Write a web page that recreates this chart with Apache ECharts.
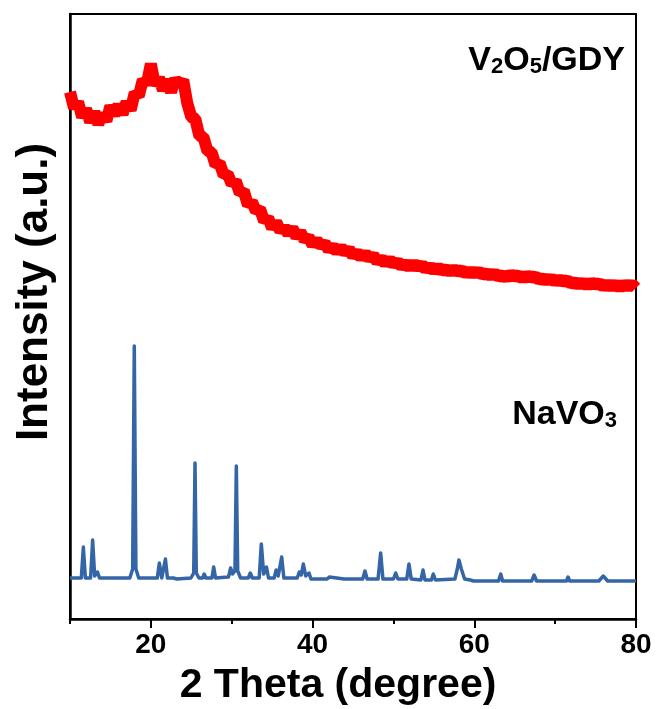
<!DOCTYPE html>
<html>
<head>
<meta charset="utf-8">
<script src="https://cdn.jsdelivr.net/npm/echarts@6/dist/echarts.min.js"></script>
<style>html,body{margin:0;padding:0;background:#fff;}#c{width:660px;height:709px;}</style>
</head>
<body>
<div id="c"></div>
<script>
// 2 Theta (degree) grid for the V2O5/GDY pattern (0.5 degree steps)
const redTheta = [];
for (let i = 0; i <= 140; i++) redTheta.push(10 + i * 0.5);
// V2O5/GDY intensity (a.u.) (noise estimated)
const redIntensity = [
 527,511,517,502,510,497,507,495,505,498,513,504,514,505,517,509,526,523,539,535,
 555,534,541,529,539,527,540,534,539,516,
 502,500,483,482,468,467,454,456,444,445,435,438,426,428,414,417,408,410,398,401,
 391,397,388,392,385,391,382,387,379,382,374,
 379,373,376,369,373,367,372,366,370,363,367,361,366,360,364,357,361,355,360,354,
 358,352,356,351,356,351,355,349,353,348,
 352,348,350,347,350,347,349,345,348,345,348,344,346,343,346,342,344,341,345,342,
 344,340,344,341,343,339,341,338,341,337,340,337,339,335,337,334,337,333,337,334,
 336,332,335,332,335,331,335,332,335,331
];
// NaVO3 pattern: [2 theta, intensity]
const bluePoints = [
 [10,41],
 [11.4,41],[11.65,72],[11.9,41],
 [12.55,41],[12.8,79],[13.05,43],[13.4,47],[13.65,41],
 [17.4,41],[17.75,50],[17.95,273],[18.15,50],[18.5,41],
 [20.8,41],[21.05,56],[21.35,41],[21.55,42],[21.8,60],[22.05,41],
 [22.8,41],[23.0,43],[23.2,40],
 [24.95,41],[25.3,46],[25.46,156],[25.62,46],[25.95,41],
 [26.4,41],[26.6,45],[26.8,41],
 [27.55,41],[27.77,52],[28.0,41],
 [29.6,42],[29.87,51],[30.1,45],[30.4,48],[30.57,153],[30.74,48],[31.1,41],
 [32.05,41],[32.3,46],[32.55,41],
 [33.4,41],[33.66,75],[33.95,45],[34.3,52],[34.55,41],
 [35.25,41],[35.5,49],[35.75,43],[36.18,62],[36.45,41],
 [38.1,41],[38.36,47],[38.6,44],[38.86,55],[39.15,43],[39.56,46],[39.8,40],
 [41.8,40],[42.07,42],[42.3,40],
 [43.9,40],[44.13,41],[44.35,40],
 [46.2,40],[46.48,48],[46.75,40],
 [48.1,40],[48.42,66],[48.7,40],
 [50.0,40],[50.28,46],[50.55,40],
 [51.65,40],[51.92,55],[52.2,40],
 [53.4,39],[53.66,49],[53.9,39],
 [54.7,39],[54.93,45],[55.2,39],
 [57.6,40],[57.9,50],[58.1,59],[58.4,50],[58.8,40],
 [59.5,39],[59.7,41],[59.9,38],
 [63.0,38],[63.27,45],[63.5,38],
 [67.1,38],[67.4,44],[67.7,38],
 [71.4,38],[71.6,42],[71.8,38],
 [75.4,38],[75.95,43],[76.5,38],
 [80,38]
];
const majorTicks = [20, 40, 60, 80];
const minorTicks = [10, 30, 50, 70];

const redData = redTheta.map((t, i) => [t, redIntensity[i]]);
const FONT = '"Liberation Sans", Arial, sans-serif';

const chart = echarts.init(document.getElementById('c'), null, {renderer: 'canvas'});
chart.setOption({
  animation: false,
  backgroundColor: '#fff',
  grid: {left: 70, right: 24, top: 14, bottom: 90, show: true, borderColor: '#000', borderWidth: 2, backgroundColor: 'transparent'},
  xAxis: [{
    type: 'value', min: 10, max: 80, position: 'bottom',
    axisLine: {show: true, lineStyle: {color: '#000', width: 2.5}},
    axisTick: {show: true, inside: false, length: 9, lineStyle: {color: '#000', width: 2}, customValues: majorTicks},
    axisLabel: {show: true, customValues: majorTicks, margin: 12, color: '#000', fontSize: 28, fontWeight: 'bold', fontFamily: FONT},
    splitLine: {show: false}
  }, {
    type: 'value', min: 10, max: 80, position: 'bottom',
    axisLine: {show: false},
    axisTick: {show: true, inside: false, length: 5, lineStyle: {color: '#000', width: 2}, customValues: minorTicks},
    axisLabel: {show: false},
    splitLine: {show: false}
  }],
  yAxis: {
    type: 'value', min: 0, max: 605,
    axisLine: {show: true, lineStyle: {color: '#000', width: 2.5}},
    axisTick: {show: false}, axisLabel: {show: false}, splitLine: {show: false}
  },
  series: [{
    type: 'line', data: redData, showSymbol: false, symbol: 'none',
    lineStyle: {color: '#ff0000', width: 12, join: 'bevel', cap: 'butt'}, z: 3
  }, {
    type: 'line', data: bluePoints, showSymbol: false, symbol: 'none',
    lineStyle: {color: '#3465a6', width: 3.5, join: 'round'}, z: 2
  }],
  graphic: [{
    type: 'text', x: 35, y: 292, rotation: Math.PI / 2,
    style: {text: 'Intensity (a.u.)', fill: '#000', font: 'bold 44px ' + FONT, textAlign: 'center', textVerticalAlign: 'middle'}
  }, {
    type: 'text', x: 338, y: 686,
    style: {text: '2 Theta (degree)', fill: '#000', font: 'bold 41px ' + FONT, textAlign: 'center', textVerticalAlign: 'middle'}
  }, {
    type: 'text', x: 625, y: 58,
    style: {
      text: '{m|V}{s|2}{m|O}{s|5}{m|/GDY}', align: 'right', verticalAlign: 'middle',
      rich: {
        m: {fontSize: 34, fontWeight: 'bold', fontFamily: FONT, fill: '#000', lineHeight: 40, verticalAlign: 'bottom'},
        s: {fontSize: 22, fontWeight: 'bold', fontFamily: FONT, fill: '#000', lineHeight: 8, verticalAlign: 'bottom'}
      }
    }
  }, {
    type: 'text', x: 617, y: 412,
    style: {
      text: '{m|NaVO}{s|3}', align: 'right', verticalAlign: 'middle',
      rich: {
        m: {fontSize: 34, fontWeight: 'bold', fontFamily: FONT, fill: '#000', lineHeight: 40, verticalAlign: 'bottom'},
        s: {fontSize: 22, fontWeight: 'bold', fontFamily: FONT, fill: '#000', lineHeight: 8, verticalAlign: 'bottom'}
      }
    }
  }]
});
</script>
</body>
</html>
